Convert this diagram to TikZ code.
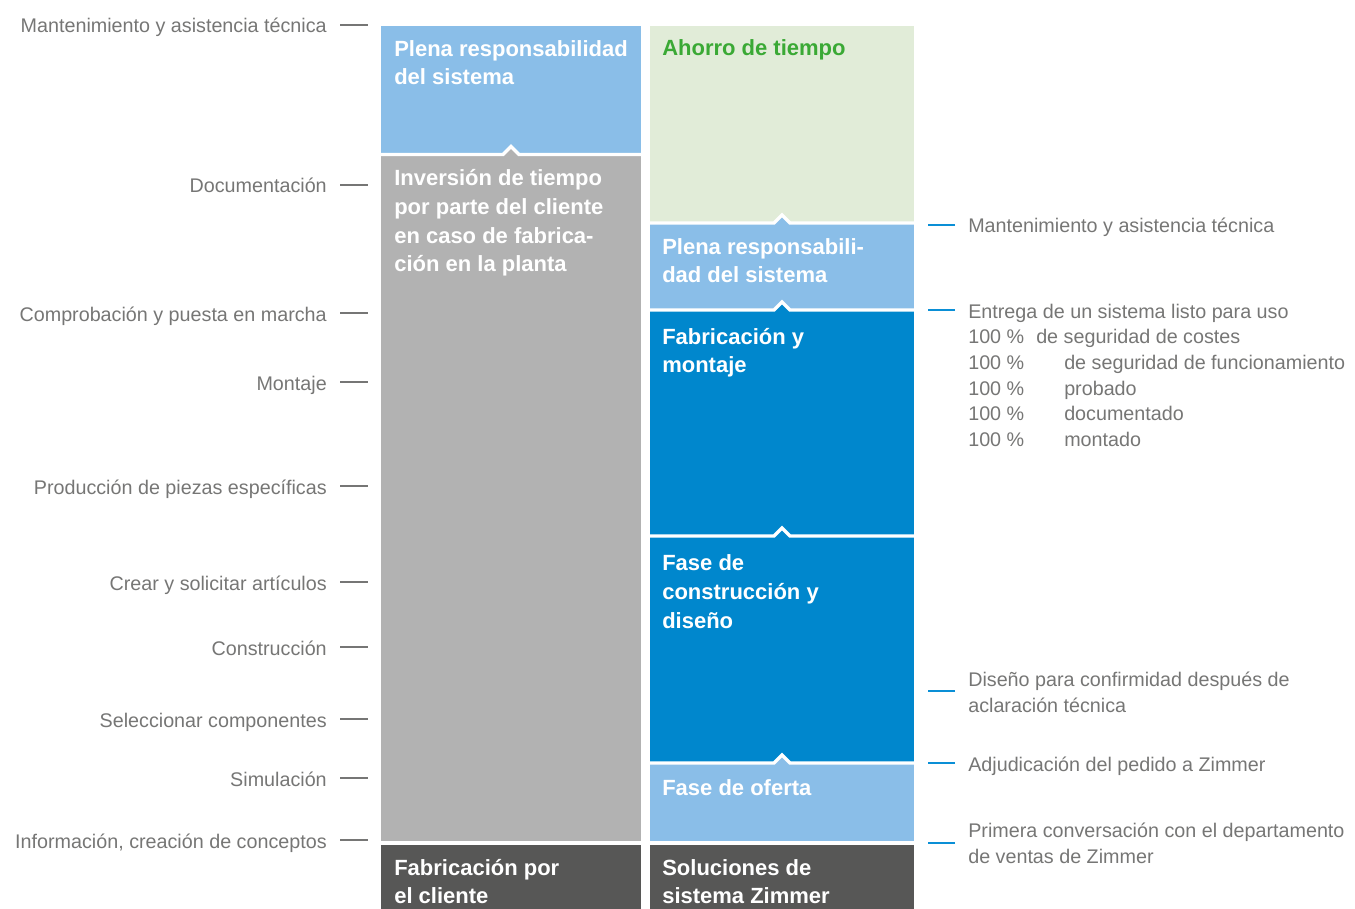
\documentclass[tikz,border=0pt]{standalone}
\usepackage{fontspec}
\setmainfont{Liberation Sans}
\usepackage{xcolor}
\usepackage{tikz}

\definecolor{zlblue}{RGB}{138,190,232}
\definecolor{zblue}{RGB}{0,135,205}
\definecolor{zgray}{RGB}{178,178,178}
\definecolor{zdark}{RGB}{87,87,86}
\definecolor{zpale}{RGB}{225,236,216}
\definecolor{zgreen}{RGB}{58,169,53}
\definecolor{ztext}{RGB}{118,118,117}
\definecolor{ztick}{RGB}{10,143,214}

\begin{document}
\begin{tikzpicture}[x=0.75pt,y=0.75pt,yscale=-1,xscale=1,
  lbl/.style={inner sep=0pt,text=ztext,font=\fontsize{14.8}{19.3}\selectfont,align=left},
  boxtxt/.style={anchor=base west,inner sep=0pt,text=white,font=\fontsize{16.5}{21.5}\selectfont\bfseries,align=left},
  tickL/.style={draw=ztext,line width=0.8pt},
  tickR/.style={draw=ztick,line width=0.8pt},
  sep/.style={draw=white,line width=2.6pt}]
\useasboundingbox (0,0) rectangle (1355,909);

%Shape: Rectangle [left column]
\fill[zlblue] (381,26) rectangle (641,154.5);
\fill[zgray] (381,154.5) rectangle (641,841);
\fill[zdark] (381,845) rectangle (641,909);
\fill[zgray] (503,154.5) -- (511,146.5) -- (519,154.5) -- cycle;
\draw[sep] (381,154.5) -- (503,154.5) -- (511,146.5) -- (519,154.5) -- (641,154.5);

%Shape: Rectangle [right column]
\fill[zpale] (650,26) rectangle (914,223);
\fill[zlblue] (650,223) rectangle (914,310);
\fill[zblue] (650,310) rectangle (914,763);
\fill[zlblue] (650,763) rectangle (914,841);
\fill[zdark] (650,845) rectangle (914,909);
\fill[zlblue] (774,223) -- (782,215) -- (790,223) -- cycle;
\draw[sep] (650,223) -- (774,223) -- (782,215) -- (790,223) -- (914,223);
\fill[zblue] (774,310) -- (782,302) -- (790,310) -- cycle;
\draw[sep] (650,310) -- (774,310) -- (782,302) -- (790,310) -- (914,310);
\fill[zblue] (774,536) -- (782,528) -- (790,536) -- cycle;
\draw[sep] (650,536) -- (774,536) -- (782,528) -- (790,536) -- (914,536);
\fill[zlblue] (774,763) -- (782,755) -- (790,763) -- cycle;
\draw[sep] (650,763) -- (774,763) -- (782,755) -- (790,763) -- (914,763);

% Text Node (base = last line)
\node[boxtxt] (plenaL) at (394,84.7) {Plena responsabilidad\\del sistema};
% Text Node
\node[boxtxt] (inversion) at (394,272) {Inversión de tiempo\\por parte del cliente\\en caso de fabrica-\\ción en la planta};
% Text Node
\node[boxtxt] (fabCliente) at (394,903.7) {Fabricación por\\el cliente};
% Text Node
\node[boxtxt,text=zgreen] (ahorro) at (662,56) {Ahorro de tiempo};
% Text Node
\node[boxtxt] (plenaR) at (662,282.7) {Plena responsabili-\\dad del sistema};
% Text Node
\node[boxtxt] (fabMontaje) at (662,372.7) {Fabricación y\\montaje};
% Text Node
\node[boxtxt] (faseCons) at (662,628.3) {Fase de\\construcción y\\diseño};
% Text Node
\node[boxtxt] (faseOferta) at (662,795) {Fase de oferta};
% Text Node
\node[boxtxt] (soluciones) at (662,903.7) {Soluciones de\\sistema Zimmer};

%Left labels
\node[lbl,anchor=base east] (lMant) at (327,33) {Mantenimiento y asistencia técnica};
\node[lbl,anchor=base east] (lDoc) at (327,193) {Documentación};
\node[lbl,anchor=base east] (lComp) at (327,321) {Comprobación y puesta en marcha};
\node[lbl,anchor=base east] (lMontaje) at (327,390) {Montaje};
\node[lbl,anchor=base east] (lProd) at (327,494) {Producción de piezas específicas};
\node[lbl,anchor=base east] (lCrear) at (327,590) {Crear y solicitar artículos};
\node[lbl,anchor=base east] (lConstr) at (327,655) {Construcción};
\node[lbl,anchor=base east] (lSelec) at (327,727) {Seleccionar componentes};
\node[lbl,anchor=base east] (lSimul) at (327,786) {Simulación};
\node[lbl,anchor=base east] (lInfo) at (327,848) {Información, creación de conceptos};

\draw[tickL] (lMant.base east) ++(13,-8) -- ++(28,0);
\draw[tickL] (lDoc.base east) ++(13,-8) -- ++(28,0);
\draw[tickL] (lComp.base east) ++(13,-8) -- ++(28,0);
\draw[tickL] (lMontaje.base east) ++(13,-8) -- ++(28,0);
\draw[tickL] (lProd.base east) ++(13,-8) -- ++(28,0);
\draw[tickL] (lCrear.base east) ++(13,-8) -- ++(28,0);
\draw[tickL] (lConstr.base east) ++(13,-8) -- ++(28,0);
\draw[tickL] (lSelec.base east) ++(13,-8) -- ++(28,0);
\draw[tickL] (lSimul.base east) ++(13,-8) -- ++(28,0);
\draw[tickL] (lInfo.base east) ++(13,-8) -- ++(28,0);

%Right labels (base = last line)
\node[lbl,anchor=base west] (rMant) at (968,233) {Mantenimiento y asistencia técnica};
\node[lbl,anchor=base west] (rEntrega) at (968,446.7) {Entrega de un sistema listo para uso\\
  \makebox[51pt][l]{100 \%}de seguridad de costes\\
  \makebox[72pt][l]{100 \%}de seguridad de funcionamiento\\
  \makebox[72pt][l]{100 \%}probado\\
  \makebox[72pt][l]{100 \%}documentado\\
  \makebox[72pt][l]{100 \%}montado};
\node[lbl,anchor=base west] (rDiseno) at (968,712.7) {Diseño para confirmidad después de\\aclaración técnica};
\node[lbl,anchor=base west] (rAdjud) at (968,771) {Adjudicación del pedido a Zimmer};
\node[lbl,anchor=base west] (rPrimera) at (968,863.7) {Primera conversación con el departamento\\de ventas de Zimmer};

\draw[tickR] (rMant.base west) ++(-13,-8) -- ++(-27,0);
\draw[tickR] (rEntrega.base west) ++(-13,-136.7) -- ++(-27,0);
\draw[tickR] (rDiseno.base west) ++(-13,-21.7) -- ++(-27,0);
\draw[tickR] (rAdjud.base west) ++(-13,-8) -- ++(-27,0);
\draw[tickR] (rPrimera.base west) ++(-13,-20.7) -- ++(-27,0);

\end{tikzpicture}
\end{document}
